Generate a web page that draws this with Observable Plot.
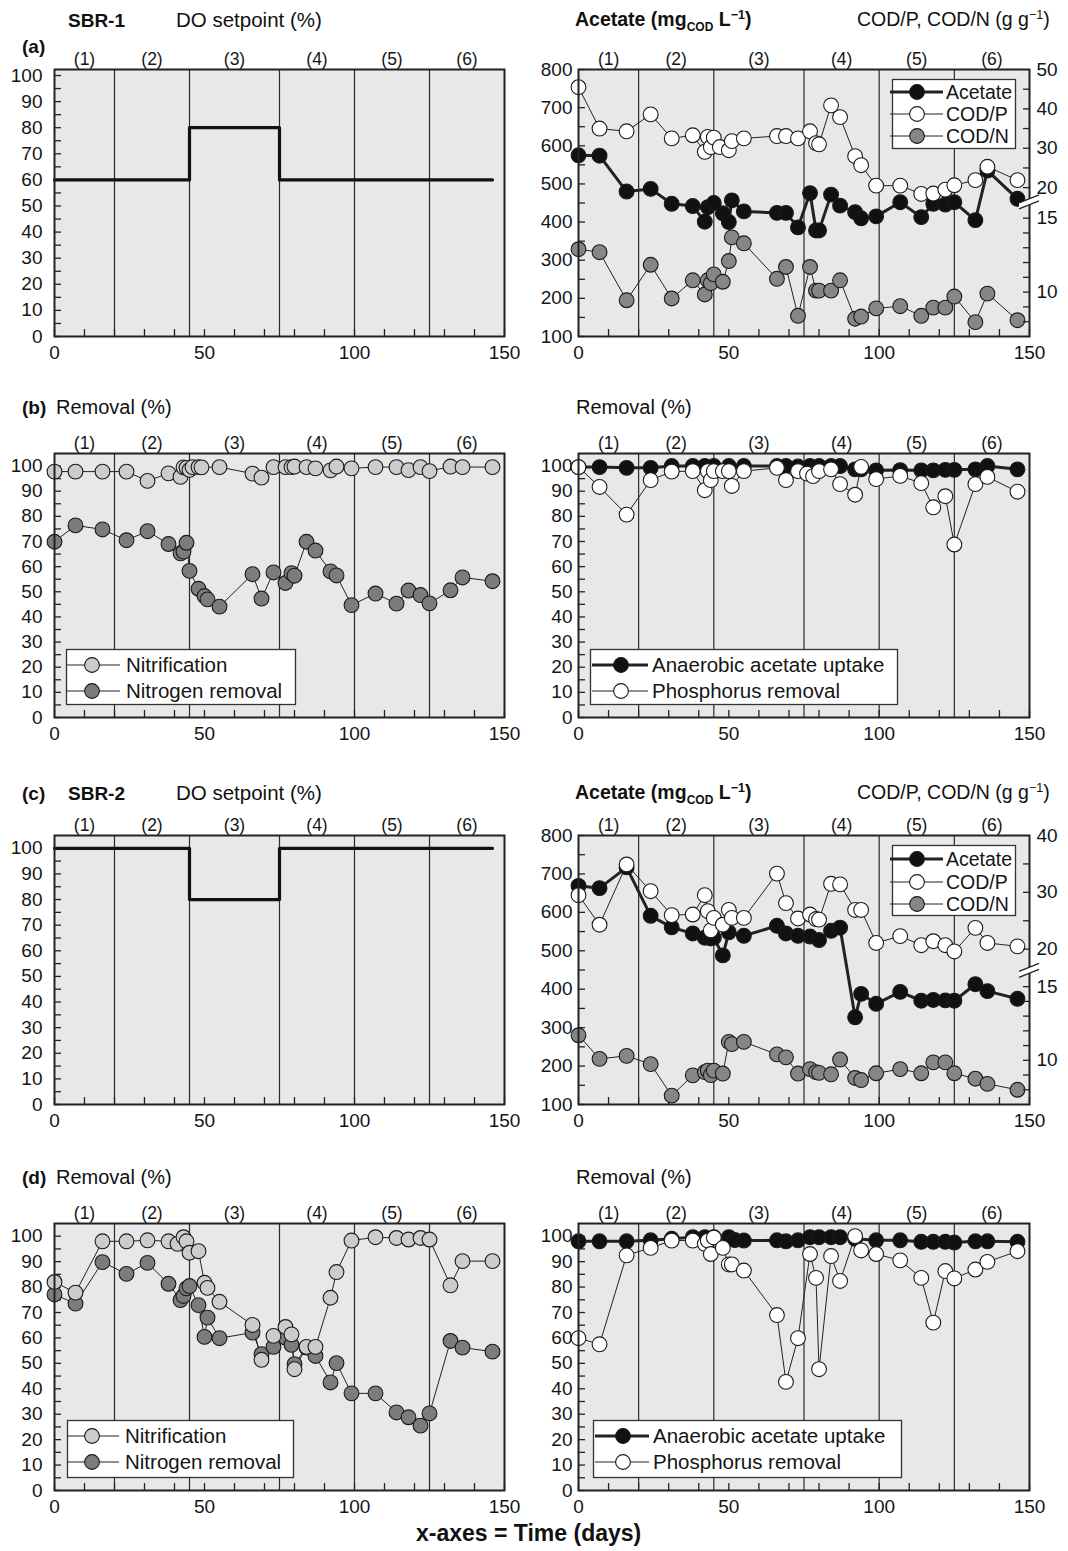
<!DOCTYPE html>
<html><head><meta charset="utf-8">
<script src="https://cdn.jsdelivr.net/npm/d3@7"></script>
<script src="https://cdn.jsdelivr.net/npm/@observablehq/plot@0.6"></script>
<style>
body{margin:0;background:#fff;font-family:"Liberation Sans",Arial,sans-serif;}
#root{position:relative;width:1068px;height:1551px;overflow:hidden;background:#fff;}
.t{position:absolute;white-space:nowrap;color:#111;}
</style></head><body><div id="root"></div>
<script>
// ---------- data ----------
const phaseBounds = [20, 45, 75, 100, 125];
const phaseMid = [10, 32.5, 60, 87.5, 112.5, 137.5];
const phaseLabels = ["(1)", "(2)", "(3)", "(4)", "(5)", "(6)"];
const xLabels = [0, 50, 100, 150];
const xMinor = d3.range(0, 151, 10);

// DO setpoint (%), [day, value]
const doSBR1 = [[0, 60], [45, 80], [75, 60], [146, 60]];
const doSBR2 = [[0, 100], [45, 80], [75, 100], [146, 100]];

// (a) SBR-1 acetate (mgCOD/L), COD/P, COD/N (g/g)
const aAcetate = [[0,575],[7,574],[16,480],[24,487],[31,448],[38,442],[42,401],[43,439],[45,450],[48,423],[50,400],[51,457],[55,428],[66,424],[69,424],[73,386],[77,476],[79,378],[80,378],[84,472],[87,443],[92,426],[94,410],[99,415],[107,452],[114,413],[118,448],[122,446],[125,452],[132,405],[136,535],[146,461]];
const aCODP = [[0,45.5],[7,35.0],[16,34.3],[24,38.6],[31,32.5],[38,33.3],[42,29.1],[43,32.9],[44,30.3],[45,32.7],[47,30.3],[50,29.5],[51,31.8],[55,32.5],[66,33.1],[69,33.1],[73,32.5],[77,34.3],[79,31.3],[80,31.0],[84,40.9],[87,37.9],[92,28.0],[94,25.7],[99,20.5],[107,20.5],[114,18.4],[118,18.5],[122,19.5],[125,20.6],[132,21.9],[136,25.3],[146,21.9]];
const aCODN = [[0,12.9],[7,12.7],[16,9.45],[24,11.85],[31,9.57],[38,10.8],[42,9.84],[43,10.8],[44,10.6],[45,11.2],[48,10.7],[50,12.1],[51,13.7],[55,13.3],[66,10.9],[69,11.7],[73,8.4],[77,11.7],[79,10.1],[80,10.1],[84,10.1],[87,10.8],[92,8.2],[94,8.35],[99,8.9],[107,9.05],[114,8.4],[118,8.95],[122,8.95],[125,9.7],[132,7.97],[136,9.9],[146,8.1]];

// (b) SBR-1 removal (%)
const bNitrif = [[0,97.8],[7,97.8],[16,97.8],[24,97.8],[31,94.1],[38,97.1],[42,95.7],[43,99.5],[44,99.3],[45,98.5],[46,99.6],[48,99.6],[49,99.5],[55,99.6],[66,97],[69,95.4],[73,99.6],[77,99.6],[79,99.6],[80,99.8],[84,99.6],[87,99.1],[92,98.3],[94,99.8],[99,99.1],[107,99.6],[114,99.6],[118,98.4],[122,99.6],[125,98],[132,99.8],[136,99.6],[146,99.6]];
const bNrem = [[0,69.9],[7,76.4],[16,74.8],[24,70.5],[31,74.1],[38,69],[42,65.3],[43,66],[44,69.5],[45,58.3],[48,51.2],[50,48.3],[51,47],[55,44.1],[66,57],[69,47.3],[73,57.7],[77,53.5],[79,57.4],[80,56.4],[84,69.9],[87,66.4],[92,58.1],[94,56.5],[99,44.7],[107,49.3],[114,45.3],[118,50.5],[122,48.7],[125,45.4],[132,50.6],[136,55.7],[146,54.2]];
const bUptake = [[0,99.6],[7,99.6],[16,99.3],[24,99.3],[31,100],[38,100],[42,100],[45,100],[50,100],[55,100],[66,100],[69,100],[73,99.8],[77,100],[80,100],[84,100],[87,100],[92,98.7],[94,98.7],[99,98.3],[107,98.4],[114,98.3],[118,98.3],[122,98.5],[125,98.5],[132,98.7],[136,100],[146,98.7]];
const bPrem = [[0,99.6],[7,91.7],[16,80.7],[24,94.4],[31,97.8],[38,98],[42,90.4],[43,98],[44,94.4],[45,98],[48,98],[50,98],[51,92.1],[55,98],[66,99.3],[69,94.4],[73,98],[76,97],[78,96],[80,98],[84,98.7],[87,92.8],[92,88.6],[94,99.7],[99,94.8],[107,96.1],[114,93.2],[118,83.6],[122,88],[125,68.8],[132,92.8],[136,95.7],[146,89.8]];

// (c) SBR-2 acetate, COD/P, COD/N
const cAcetate = [[0,669],[7,663],[16,717],[24,591],[31,561],[38,545],[42,534],[44,532],[45,534],[48,488],[50,548],[55,539],[66,565],[69,545],[73,539],[77,537],[80,528],[84,552],[87,560],[92,327],[94,388],[99,362],[107,393],[114,370],[118,372],[122,371],[125,370],[132,413],[136,395],[146,375]];
const cCODP = [[0,29.5],[7,24.3],[16,34.9],[24,30.2],[31,26],[38,26.1],[42,29.5],[43,26.7],[44,23.3],[45,25.5],[48,24.3],[50,26.9],[51,25.5],[55,25.5],[66,33.3],[69,28.1],[73,25.4],[77,26.1],[79,25.3],[80,25.2],[84,31.5],[87,31.4],[92,26.9],[94,26.9],[99,21.1],[107,22.3],[114,20.7],[118,21.4],[122,20.7],[125,19.6],[132,23.75],[136,21.1],[146,20.5]];
const cCODN = [[0,11.7],[7,10.1],[16,10.3],[24,9.74],[31,7.6],[38,8.98],[42,9.2],[43,9.3],[44,9.0],[45,9.3],[48,9.1],[50,11.25],[51,11.1],[55,11.25],[66,10.4],[69,10.2],[73,9.1],[77,9.4],[79,9.2],[80,9.15],[84,9.05],[87,10.05],[92,8.8],[94,8.66],[99,9.12],[107,9.4],[114,9.12],[118,9.86],[122,9.86],[125,9.12],[132,8.75],[136,8.4],[146,8.0]];

// (d) SBR-2 removal (%)
const dNitrif = [[0,82],[7,77.8],[16,98],[24,98],[31,98.4],[38,98],[41,97],[43,99.6],[44,98],[45,93.5],[48,94.1],[50,81.7],[51,79.7],[55,74.2],[66,65.1],[69,51.4],[73,60.8],[77,64.3],[79,61.4],[80,47.7],[84,56.5],[87,56.5],[92,75.8],[94,85.9],[99,98.3],[107,99.6],[114,99.3],[118,98.7],[122,99.3],[125,98.7],[132,80.7],[136,90.2],[146,90.2]];
const dNrem = [[0,77.1],[7,73.5],[16,89.8],[24,85.2],[31,89.5],[38,81.3],[42,74.9],[43,76.5],[44,79.5],[45,80.4],[48,72.9],[50,60.4],[51,68],[55,59.9],[66,62.1],[69,53.6],[73,56.5],[77,60.1],[79,57.3],[80,49.7],[84,56.2],[87,52.9],[92,42.5],[94,50.1],[99,38.2],[107,38.2],[114,30.7],[118,28.8],[122,25.5],[125,30.3],[132,58.8],[136,56.2],[146,54.6]];
const dUptake = [[0,98],[7,98],[16,98],[24,98.4],[31,99],[38,99.6],[42,99.6],[45,99.6],[50,99.6],[52,98.5],[55,98.3],[66,98.4],[69,98],[73,98.4],[77,99.6],[80,99.6],[84,99.6],[87,99.6],[92,99],[99,98.4],[107,98.4],[114,97.8],[118,97.8],[122,97.8],[125,97.5],[132,98],[136,98],[146,97.8]];
const dPrem = [[0,59.9],[7,57.5],[16,92.5],[24,95.4],[31,98.3],[38,98.3],[42,97],[43,98.3],[44,93],[45,99.5],[48,95.4],[50,88.9],[51,88.9],[55,86.5],[66,69],[69,42.7],[73,59.9],[77,93],[79,83.6],[80,47.7],[84,92.2],[87,82.4],[92,100],[94,94.4],[99,93],[107,90.5],[114,83.6],[118,66],[122,86.3],[125,83.4],[132,86.9],[136,89.9],[146,94.1]];

// axis tick values
const pctLabels = d3.range(0, 101, 10);
const pctMinor = d3.range(0, 101, 5);
const acLabels = d3.range(100, 801, 100);
const acMinor = d3.range(100, 801, 50);
const cod1Labels = [10, 15, 20, 30, 40, 50];
const cod1Minor = [8, 9, 10, 11, 12, 13, 14, 15, 20, 25, 30, 35, 40, 45];
const cod2Labels = [10, 15, 20, 30, 40];
const cod2Minor = [8, 9, 10, 11, 12, 13, 14, 15, 20, 25, 30, 35];

// ---------- styling ----------
const FONT = '"Liberation Sans", Arial, Helvetica, sans-serif';
const BG = "#e7e8e9";
const C_BLACK = "#111111", C_WHITE = "#ffffff", C_GRAY = "#858687", C_LIGHT = "#cbcccd", C_DARK = "#7b7c7e";
const root = document.getElementById("root");

// broken right axis: COD value -> acetate-axis position (piecewise linear)
const cod1 = d3.scaleLinear().domain([7, 16, 50]).range([100, 449, 800]);
const cod2 = d3.scaleLinear().domain([7, 16, 40]).range([100, 445, 800]);

const X = d => d[0], Y = d => d[1];
function series(data, fill, {y = Y, lw = 1} = {}) {
  return {
    line: Plot.line(data, {x: X, y, stroke: "#222", strokeWidth: lw}),
    dot: Plot.dot(data, {x: X, y, r: 7.4, fill, stroke: "#1a1a1a", strokeWidth: 1.1})
  };
}
function breakMark(yv) {
  return (index, scales, values, dims) => {
    const y = scales.y(yv), x = dims.width - dims.marginRight;
    const g = d3.create("svg:g");
    g.append("path").attr("d", `M${x-10},${y+6}L${x+10},${y-2}L${x+10},${y-8}L${x-10},${y}Z`).attr("fill", "#fff");
    g.append("path").attr("d", `M${x-10},${y+6}L${x+10},${y-2}M${x-10},${y}L${x+10},${y-8}`)
      .attr("stroke", "#222").attr("stroke-width", 1.2).attr("fill", "none");
    return g.node();
  };
}

function panel({fx, fy, fw, fh, ml, mr, yDomain, yLabels, yMinor, yPad, marks, extra = []}) {
  const mt = 34, mb = 36;
  const p = Plot.plot({
    width: ml + fw + mr, height: mt + fh + mb,
    marginLeft: ml, marginRight: mr, marginTop: mt, marginBottom: mb,
    style: {fontFamily: FONT, fontSize: "19px", color: "#151515", background: "transparent", overflow: "visible"},
    x: {domain: [0, 150]},
    y: {domain: yDomain},
    marks: [
      Plot.frame({fill: BG, stroke: null}),
      Plot.ruleX(phaseBounds, {stroke: "#2a2a2a", strokeWidth: 1.2}),
      Plot.tickX(xMinor, {x: d => d, insetTop: fh - 7, stroke: "#222", strokeWidth: 1.3}),
      Plot.tickY(yMinor, {y: d => d, insetRight: fw - 7, stroke: "#222", strokeWidth: 1.3}),
      Plot.axisX({ticks: xLabels, tickSize: 0, tickPadding: 9, label: null}),
      Plot.axisY({ticks: yLabels, tickSize: 0, tickPadding: yPad, label: null}),
      Plot.text(phaseLabels, {x: (d, i) => phaseMid[i], frameAnchor: "top", lineAnchor: "bottom", dy: -5, fontSize: 17.5}),
      ...marks,
      Plot.frame({stroke: "#222", strokeWidth: 2}),
      ...extra
    ]
  });
  p.style.position = "absolute";
  p.style.left = (fx - ml) + "px";
  p.style.top = (fy - mt) + "px";
  root.appendChild(p);
}

function codAxis(scale, labels, minor, fw) {
  return [
    Plot.tickY(minor.map(v => scale(v)), {y: d => d, insetLeft: fw - 6, stroke: "#222", strokeWidth: 1.3}),
    Plot.axisY({anchor: "right", ticks: labels.map(v => scale(v)), tickFormat: v => Math.round(scale.invert(v)), tickSize: 0, tickPadding: 7, label: null}),
    breakMark(scale(16))
  ];
}

function text(html, x, cy, size, bold) {
  const d = document.createElement("div");
  d.className = "t";
  d.innerHTML = html;
  d.style.left = x + "px";
  d.style.top = (cy - size / 2) + "px";
  d.style.fontSize = size + "px";
  d.style.lineHeight = size + "px";
  if (bold) d.style.fontWeight = "bold";
  root.appendChild(d);
}

function legend(x, y, w, h, rows, lx1, lx2, mx, tx, items, fs) {
  const svg = d3.create("svg").attr("width", w).attr("height", h)
    .style("position", "absolute").style("left", x + "px").style("top", y + "px").style("overflow", "visible");
  svg.append("rect").attr("x", 0.5).attr("y", 0.5).attr("width", w - 1).attr("height", h - 1)
    .attr("fill", "#fff").attr("stroke", "#333").attr("stroke-width", 1.3);
  items.forEach((it, i) => {
    const cy = rows[i];
    svg.append("line").attr("x1", lx1).attr("x2", lx2).attr("y1", cy).attr("y2", cy).attr("stroke", "#222").attr("stroke-width", it.lw);
    svg.append("circle").attr("cx", mx).attr("cy", cy).attr("r", 7.4).attr("fill", it.fill).attr("stroke", "#1a1a1a").attr("stroke-width", 1.1);
    svg.append("text").attr("x", tx).attr("y", cy).attr("dy", "0.36em").attr("font-family", FONT).attr("font-size", fs).attr("fill", "#151515").text(it.label);
  });
  root.appendChild(svg.node());
}

// ---------- geometry ----------
const LX = 54, LW = 450, RX = 578, RW = 451;
const rowA = {fy: 69, fh: 267}, rowB = {fy: 453, fh: 264}, rowC = {fy: 835, fh: 269}, rowD = {fy: 1223, fh: 267};
const leftBase = {fx: LX, fw: LW, ml: 54, mr: 20, yPad: 12};
const rightBase = {fx: RX, fw: RW, ml: 48, mr: 39, yPad: 6};

// (a) left: DO setpoint SBR-1
panel({...leftBase, ...rowA, yDomain: [0, 102.3], yLabels: pctLabels, yMinor: pctMinor,
  marks: [Plot.line(doSBR1, {x: X, y: Y, curve: "step-after", stroke: C_BLACK, strokeWidth: 3.2})]});

// (a) right
{
  const n = series(aCODN, C_GRAY, {y: d => cod1(d[1])});
  const ac = series(aAcetate, C_BLACK, {lw: 3});
  const p = series(aCODP, C_WHITE, {y: d => cod1(d[1])});
  panel({...rightBase, ...rowA, yDomain: [100, 800], yLabels: acLabels, yMinor: acMinor,
    marks: [n.line, ac.line, p.line, n.dot, ac.dot, p.dot],
    extra: codAxis(cod1, cod1Labels, cod1Minor, RW)});
}

// (b) left
{
  const nr = series(bNrem, C_DARK), ni = series(bNitrif, C_LIGHT);
  panel({...leftBase, ...rowB, yDomain: [0, 105], yLabels: pctLabels, yMinor: pctMinor,
    marks: [nr.line, ni.line, nr.dot, ni.dot]});
}
// (b) right
{
  const u = series(bUptake, C_BLACK, {lw: 3}), pr = series(bPrem, C_WHITE);
  panel({...rightBase, ...rowB, yDomain: [0, 105], yLabels: pctLabels, yMinor: pctMinor,
    marks: [u.line, pr.line, u.dot, pr.dot]});
}

// (c) left: DO setpoint SBR-2
panel({...leftBase, ...rowC, yDomain: [0, 105], yLabels: pctLabels, yMinor: pctMinor,
  marks: [Plot.line(doSBR2, {x: X, y: Y, curve: "step-after", stroke: C_BLACK, strokeWidth: 3.2})]});

// (c) right
{
  const n = series(cCODN, C_GRAY, {y: d => cod2(d[1])});
  const ac = series(cAcetate, C_BLACK, {lw: 3});
  const p = series(cCODP, C_WHITE, {y: d => cod2(d[1])});
  panel({...rightBase, ...rowC, yDomain: [100, 800], yLabels: acLabels, yMinor: acMinor,
    marks: [n.line, ac.line, p.line, n.dot, ac.dot, p.dot],
    extra: codAxis(cod2, cod2Labels, cod2Minor, RW)});
}

// (d) left
{
  const nr = series(dNrem, C_DARK), ni = series(dNitrif, C_LIGHT);
  panel({...leftBase, ...rowD, yDomain: [0, 105], yLabels: pctLabels, yMinor: pctMinor,
    marks: [nr.line, ni.line, nr.dot, ni.dot]});
}
// (d) right
{
  const u = series(dUptake, C_BLACK, {lw: 3}), pr = series(dPrem, C_WHITE);
  panel({...rightBase, ...rowD, yDomain: [0, 105], yLabels: pctLabels, yMinor: pctMinor,
    marks: [u.line, pr.line, u.dot, pr.dot]});
}

// ---------- legends ----------
const codItems = [
  {label: "Acetate", fill: C_BLACK, lw: 3},
  {label: "COD/P", fill: C_WHITE, lw: 1},
  {label: "COD/N", fill: C_GRAY, lw: 1}
];
const nItems = [
  {label: "Nitrification", fill: C_LIGHT, lw: 1},
  {label: "Nitrogen removal", fill: C_DARK, lw: 1}
];
const pItems = [
  {label: "Anaerobic acetate uptake", fill: C_BLACK, lw: 3},
  {label: "Phosphorus removal", fill: C_WHITE, lw: 1}
];
legend(892, 79, 124, 70, [13, 35, 57], -2, 51, 25, 54, codItems, 19.5);
legend(892, 845, 124, 71, [14, 37, 59], -2, 51, 25, 54, codItems, 19.5);
legend(66, 649, 230, 56, [16, 42], 1, 54, 26, 60, nItems, 20.5);
legend(67, 1420, 227, 58, [16, 42], 1, 52, 25, 58, nItems, 20.5);
legend(590, 649, 308, 56, [16, 42], 2, 58, 31, 62, pItems, 20.5);
legend(593, 1420, 309, 58, [16, 42], 2, 56, 30, 60, pItems, 20.5);

// ---------- titles ----------
const acTitle = 'Acetate (mg<span style="font-size:12px;position:relative;top:5px">COD</span> L<span style="font-size:12.5px;position:relative;top:-7px">−1</span>)';
const codTitle = 'COD/P, COD/N (g g<span style="font-size:12.5px;position:relative;top:-7px">−1</span>)';
text("SBR-1", 68, 20, 19, true);
text("DO setpoint (%)", 176, 20, 20.5, false);
text("(a)", 22, 46, 19, true);
text(acTitle, 575, 20, 19.5, true);
text(codTitle, 857, 20, 19.5, false);

text("(b)", 22, 407, 19, true);
text("Removal (%)", 56, 407, 20, false);
text("Removal (%)", 576, 407, 20, false);

text("(c)", 22, 793, 19, true);
text("SBR-2", 68, 793, 19, true);
text("DO setpoint (%)", 176, 793, 20.5, false);
text(acTitle, 575, 793, 19.5, true);
text(codTitle, 857, 793, 19.5, false);

text("(d)", 22, 1177, 19, true);
text("Removal (%)", 56, 1177, 20, false);
text("Removal (%)", 576, 1177, 20, false);

text("x-axes = Time (days)", 416, 1533, 23, true);
</script></body></html>
